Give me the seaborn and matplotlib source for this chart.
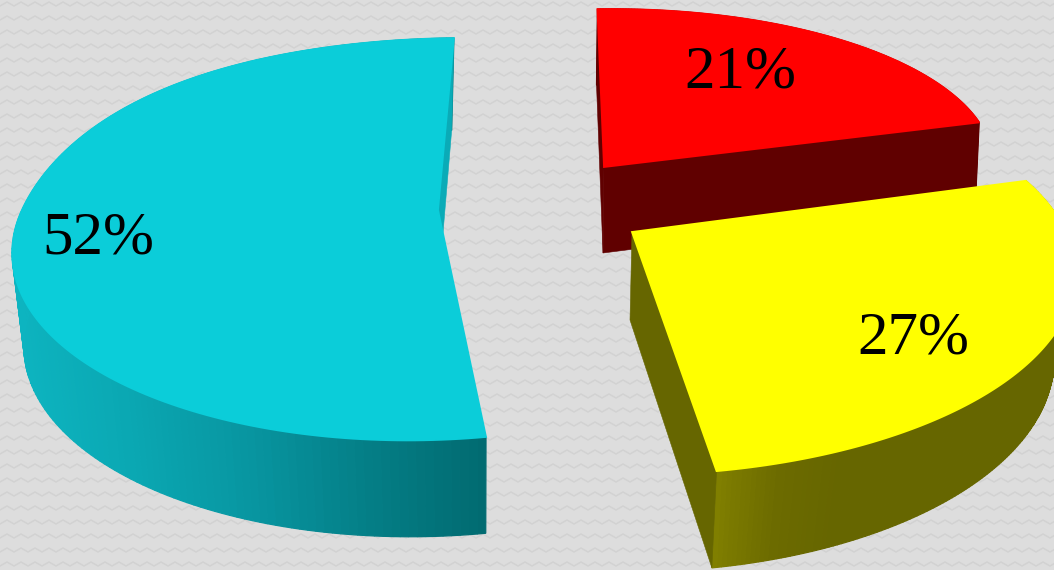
import numpy as np
import matplotlib
matplotlib.use("Agg")
import matplotlib.pyplot as plt
import seaborn as sns

# Slice shares in percent, clockwise from the top of the pie
shares = [21, 27, 52]
face_colors = ["#ff0000", "#ffff00", "#0bcdd9"]
wall_colors = ["#600000", "#666600", "#0aabb7"]
side_stops = [
    ["#600000", "#600000"],
    ["#807f00", "#6c6b00", "#666600", "#666600", "#666600", "#666600", "#666600"],
    ["#0db4c0", "#0aa7b2", "#0895a0", "#047e86", "#016a70"],
]
label_pos = [(740, 88), (913, 353), (98, 253)]

# Projection of each exploded slice: upper and lower rim as
# (cx, cy, a, b, perspective, shear, far-side bulge)
upper_rims = [
    (604, 167, 389, 158, 0.0, 7, 0.0),
    (632, 232, 434, 192, 0.21, 3, 0.0),
    (438, 210, 416, 197, 0.145, 30, 0.11),
]
lower_rims = [
    (603, 253, 386, 168, 0.0, 7, 0.0),
    (630, 320, 416, 204, 0.19, 0, 0.0),
    (437, 304, 404, 199, 0.145, 27, 0.0),
]
START_ANGLE = -2.0

sns.set_theme(style="white")
BG = "#dddddd"
fig = plt.figure(figsize=(10.54, 5.70), dpi=100, facecolor=BG)
ax = fig.add_axes([0, 0, 1, 1], facecolor=BG)
ax.set_xlim(0, 1054)
ax.set_ylim(570, 0)
ax.axis("off")

# Woven background: rows of faint zigzags
zig_x = np.arange(-7, 1068, 7)
for row in np.arange(2, 580, 14):
    zig_y = row + 4.0 * (np.arange(zig_x.size) % 2)
    ax.plot(zig_x, zig_y, color="#d2d2d2", lw=1.1, zorder=0)


def project(rim, theta_deg):
    cx, cy, a, b, k, shear, bulge = rim
    t = np.radians(theta_deg)
    u, v = np.sin(t), np.cos(t)
    s = 1.0 / (1.0 + k * v)
    widen = 1.0 + bulge * np.maximum(v, 0.0) ** 2
    return cx + a * u * s * widen + shear * v, cy - b * v * s


def quad(p0, p1, p2, p3, color, z, lw=0.4):
    xs = [p0[0], p1[0], p2[0], p3[0]]
    ys = [p0[1], p1[1], p2[1], p3[1]]
    ax.fill(xs, ys, facecolor=color, edgecolor=color, lw=lw, zorder=z)


edges = START_ANGLE + np.cumsum([0] + shares) * 3.6


# Horizontal extent of the side shading for each slice
def shade_span(idx, lx):
    if idx == 1:
        return lx[-1], lx[-1] + 345
    if idx == 2:
        return lx.min(), lx[0]
    return lx.min(), lx.max()


# Paint back to front: teal slice, then red, then yellow
for order, idx in enumerate((2, 0, 1)):
    z = 2 + order * 3
    start, end = edges[idx], edges[idx + 1]
    up, lo = upper_rims[idx], lower_rims[idx]
    thetas = np.linspace(start, end, 181)

    # Outer rim as narrow strips shaded left to right
    ux, uy = project(up, thetas)
    lx, ly = project(lo, thetas)
    palette = sns.blend_palette(side_stops[idx], 256)
    xmin, xmax = shade_span(idx, lx)
    for i in range(thetas.size - 1):
        mid = 0.5 * (lx[i] + lx[i + 1])
        frac = np.clip((mid - xmin) / (xmax - xmin), 0, 1)
        quad((ux[i], uy[i]), (ux[i + 1], uy[i + 1]), (lx[i + 1], ly[i + 1]), (lx[i], ly[i]),
             palette[int(frac * 255)], z, lw=0.9)

    # Radial cut walls facing the viewer
    if idx == 0:
        quad(up[:2], project(up, start), project(lo, start), lo[:2], wall_colors[idx], z)
    quad(up[:2], project(up, end), project(lo, end), lo[:2], wall_colors[idx], z)

    # Top face of the slice
    fx = np.concatenate([[up[0]], ux])
    fy = np.concatenate([[up[1]], uy])
    ax.fill(fx, fy, facecolor=face_colors[idx], edgecolor=face_colors[idx], lw=1.3, zorder=z + 1)

    # Percentage label
    ax.text(label_pos[idx][0], label_pos[idx][1], f"{shares[idx]}%", ha="center", va="baseline",
            fontfamily="Liberation Serif", fontsize=44, color="black", zorder=20)

fig.savefig("out.png", dpi=100, facecolor=BG)
